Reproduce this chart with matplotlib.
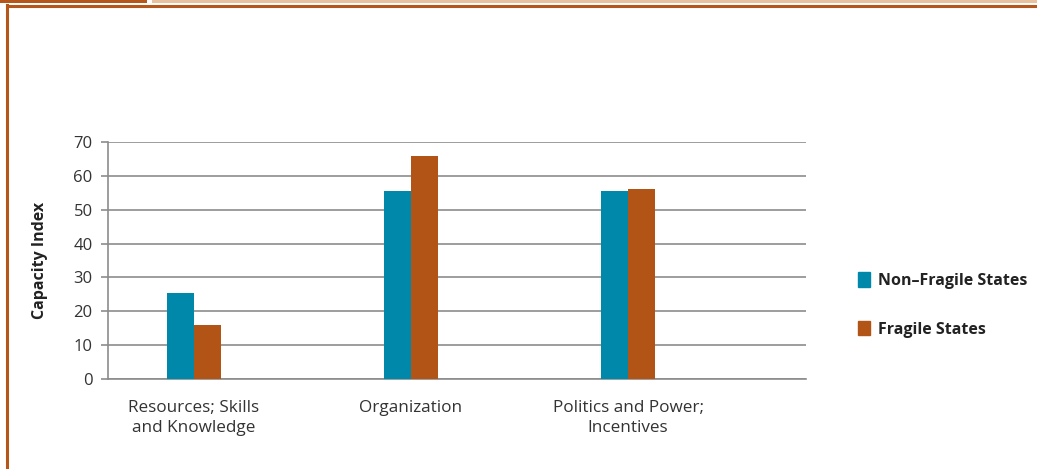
import numpy as np
import matplotlib.pyplot as plt
from matplotlib.patches import Patch, Rectangle
from matplotlib.lines import Line2D

# Datos
categorias = ['Resources; Skills\nand Knowledge', 'Organization', 'Politics and Power;\nIncentives']
no_fragiles = [25.5, 55.5, 55.5]
fragiles = [16, 66, 56]
ticks_y = [0, 10, 20, 30, 40, 50, 60, 70]

AZUL = '#0088AA'
NARANJA = '#B25416'
GRIS = '#8C8C8C'

plt.rcParams['font.family'] = ['Open Sans', 'DejaVu Sans']

fig = plt.figure(figsize=(10.37, 4.69), dpi=100)
ax = fig.add_axes([108 / 1037, 90 / 469, 698 / 1037, 237 / 469])

x = np.arange(len(categorias))
ancho = 0.124
ax.bar(x - ancho / 2, no_fragiles, ancho, color=AZUL, label='Non\u2013Fragile States', zorder=3)
ax.bar(x + ancho / 2, fragiles, ancho, color=NARANJA, label='Fragile States', zorder=3)

ax.set_xlim(-0.396, 2.82)
ax.set_ylim(0, 70)
ax.set_yticks(ticks_y)
ax.set_xticks(x)
ax.set_xticklabels(categorias, fontsize=12.3, color='#333333', linespacing=1.35)
ax.tick_params(axis='x', length=0, pad=15)
ax.tick_params(axis='y', length=5, color=GRIS, width=1.2, labelsize=12, labelcolor='#333333', pad=6)
ax.yaxis.grid(True, color=GRIS, linewidth=1.2, zorder=0)
for lado in ['top', 'right']:
    ax.spines[lado].set_visible(False)
for lado in ['left', 'bottom']:
    ax.spines[lado].set_color(GRIS)
    ax.spines[lado].set_linewidth(1.2)

ax.set_ylabel('Capacity Index', fontsize=11.5, fontweight='bold', color='#222222', labelpad=18)

# Leyenda
handles = [Patch(color=AZUL), Patch(color=NARANJA)]
fig.legend(handles, ['Non\u2013Fragile States', 'Fragile States'],
           loc='center left', bbox_to_anchor=(844 / 1037, 1 - 305 / 469),
           frameon=False, handlelength=0.7, handleheight=1.0, handletextpad=0.55,
           labelspacing=2.0, prop={'weight': 'bold', 'size': 11.5})
for t in fig.legends[0].get_texts():
    t.set_color('#222222')

# Marco decorativo
fig.add_artist(Rectangle((0, 1 - 3 / 469), 147 / 1037, 3 / 469, transform=fig.transFigure,
                         color='#B5561A', lw=0))
fig.add_artist(Rectangle((152 / 1037, 1 - 3 / 469), 1, 3 / 469, transform=fig.transFigure,
                         color='#E8C29F', lw=0))
fig.add_artist(Line2D([7 / 1037, 1], [1 - 6.5 / 469, 1 - 6.5 / 469], transform=fig.transFigure,
                      color='#B5561A', lw=2.2))
fig.add_artist(Line2D([7 / 1037, 7 / 1037], [0, 1 - 5.5 / 469], transform=fig.transFigure,
                      color='#B5561A', lw=2.2))

fig.savefig('out.png', dpi=100)
